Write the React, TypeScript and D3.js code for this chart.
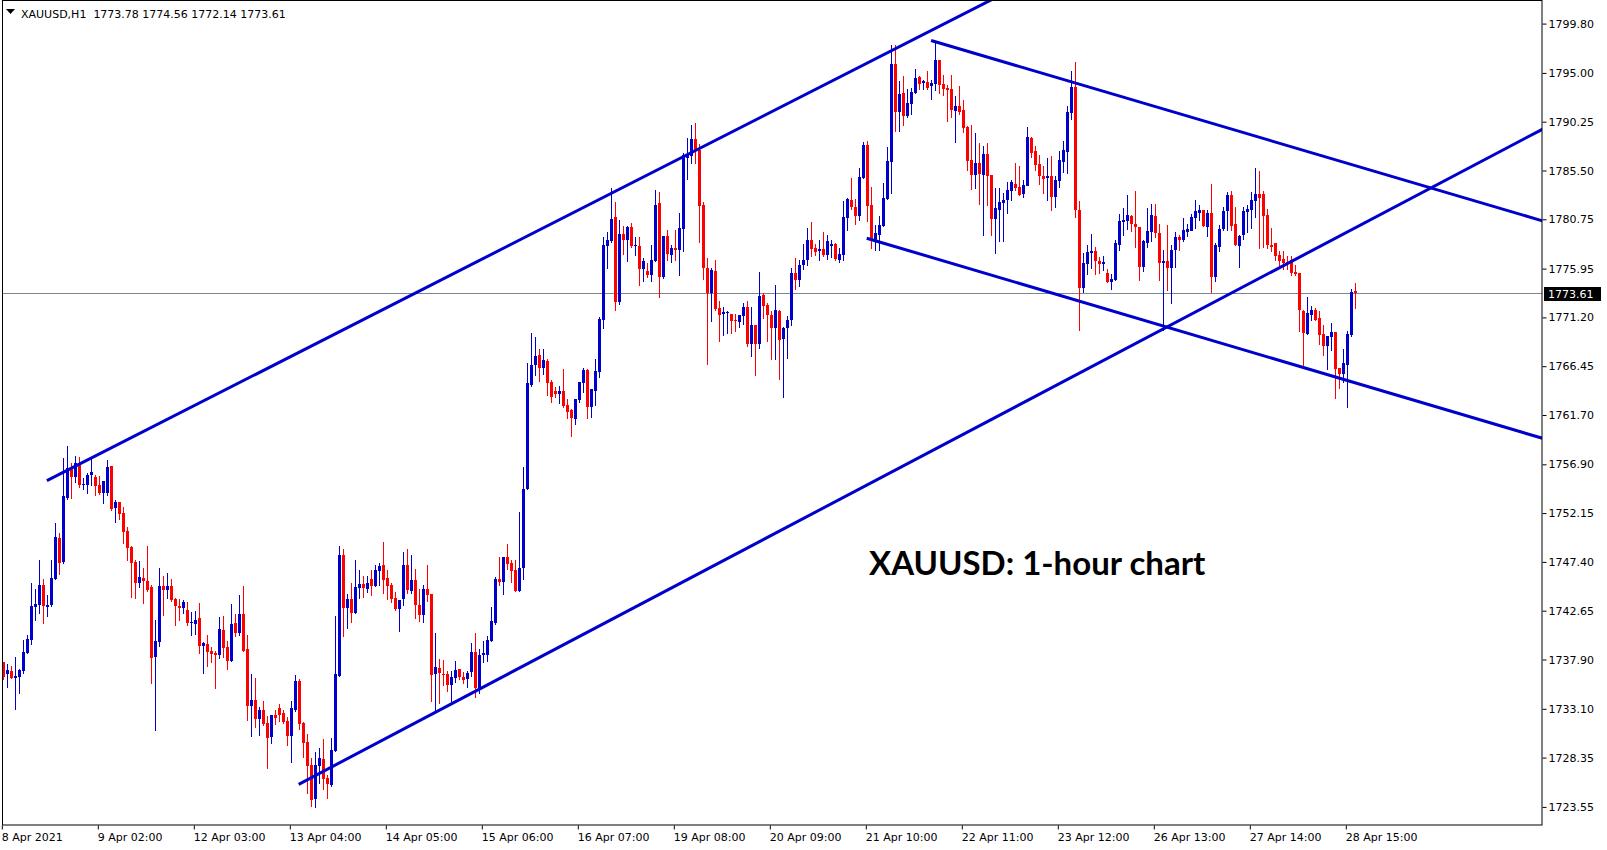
import * as d3 from 'd3';
import {useEffect, useRef} from "react";

// XAUUSD H1 bars, 8 Apr 2021 01:00 .. 28 Apr 2021 17:00
const opens = [
    1737.63, 1736.52, 1736.78, 1736.13, 1736.23, 1736.81, 1738.57, 1739.80, 1743.05, 1743.21,
    1745.16, 1743.05, 1743.24, 1745.77, 1749.77, 1747.40, 1753.60, 1756.58, 1755.61, 1757.00,
    1754.93, 1754.93, 1755.80, 1755.67, 1754.86, 1754.12, 1754.12, 1756.74, 1752.69, 1753.24,
    1752.17, 1750.41, 1748.86, 1747.43, 1745.39, 1745.84, 1745.55, 1744.97, 1738.15, 1739.64,
    1745.06, 1744.67, 1745.06, 1743.80, 1743.12, 1742.86, 1742.73, 1741.46, 1741.40, 1741.95,
    1739.25, 1739.41, 1738.74, 1738.57, 1738.35, 1740.78, 1739.12, 1737.76, 1741.46, 1740.52,
    1742.34, 1738.93, 1733.41, 1733.96, 1732.15, 1732.99, 1731.72, 1730.35, 1732.50, 1733.18,
    1732.69, 1731.91, 1730.48, 1732.98, 1735.81, 1731.72, 1729.87, 1727.66, 1724.35, 1727.56,
    1728.21, 1726.39, 1725.71, 1728.99, 1736.33, 1748.08, 1742.95, 1743.79, 1742.46, 1744.90,
    1745.25, 1744.80, 1745.74, 1745.09, 1746.55, 1747.10, 1745.84, 1745.16, 1743.89, 1742.85,
    1743.83, 1747.10, 1744.60, 1745.64, 1743.24, 1742.27, 1744.77, 1744.28, 1736.43, 1737.04,
    1736.52, 1736.52, 1735.45, 1736.13, 1736.94, 1736.23, 1736.04, 1736.62, 1738.60, 1735.06,
    1738.31, 1738.34, 1739.70, 1741.42, 1745.74, 1745.48, 1747.88, 1747.30, 1746.62, 1744.57,
    1746.75, 1754.47, 1764.67, 1766.58, 1767.55, 1766.29, 1766.97, 1764.92, 1764.05, 1763.79,
    1764.05, 1762.72, 1762.14, 1761.36, 1763.20, 1764.83, 1766.09, 1762.52, 1764.08, 1765.93,
    1771.00, 1778.17, 1778.65, 1780.99, 1772.71, 1779.34, 1778.75, 1780.02, 1778.10, 1778.17,
    1775.93, 1775.73, 1775.34, 1776.71, 1782.35, 1775.18, 1779.14, 1777.32, 1777.97, 1777.78,
    1779.82, 1786.77, 1786.93, 1788.59, 1787.52, 1782.16, 1776.03, 1773.59, 1775.73, 1772.13,
    1771.48, 1771.62, 1771.55, 1770.90, 1770.80, 1771.38, 1772.23, 1768.63, 1770.48, 1768.63,
    1773.40, 1772.42, 1771.48, 1770.18, 1771.84, 1769.05, 1770.12, 1770.90, 1775.50, 1774.80,
    1776.30, 1776.80, 1778.75, 1777.97, 1777.65, 1777.87, 1777.29, 1778.17, 1778.36, 1776.80,
    1777.29, 1780.92, 1782.64, 1781.96, 1781.09, 1784.79, 1788.00, 1782.15, 1778.65, 1779.24,
    1780.11, 1782.77, 1786.38, 1795.89, 1791.18, 1793.06, 1790.85, 1791.96, 1793.06, 1794.62,
    1794.00, 1794.13, 1793.74, 1793.94, 1796.28, 1793.94, 1793.55, 1793.45, 1791.31, 1791.80,
    1791.41, 1789.75, 1786.54, 1785.08, 1786.20, 1785.08, 1787.09, 1785.08, 1780.79, 1781.67,
    1782.38, 1782.64, 1783.52, 1784.23, 1783.91, 1783.23, 1784.04, 1788.68, 1787.35, 1786.18,
    1785.01, 1784.78, 1784.98, 1782.97, 1784.53, 1786.34, 1787.32, 1791.15, 1793.65, 1781.67,
    1774.08, 1776.41, 1777.48, 1777.68, 1776.70, 1776.41, 1775.54, 1774.66, 1774.85, 1778.26,
    1780.50, 1780.60, 1781.09, 1780.34, 1780.01, 1776.15, 1778.49, 1779.56, 1781.09, 1779.43,
    1776.51, 1776.70, 1776.02, 1777.68, 1778.98, 1778.69, 1779.56, 1779.66, 1780.83, 1781.31,
    1781.61, 1780.05, 1781.41, 1775.08, 1778.10, 1779.72, 1781.51, 1783.13, 1780.25, 1778.20,
    1779.17, 1781.41, 1781.61, 1782.49, 1783.17, 1783.17, 1781.12, 1778.20, 1778.40, 1777.23,
    1776.84, 1776.60, 1776.80, 1775.63, 1775.50, 1771.83, 1769.59, 1771.48, 1771.93, 1771.15,
    1769.59, 1768.46, 1769.30, 1769.79, 1766.28, 1765.70, 1766.61, 1769.53, 1773.78,
];
const highs = [
    1737.70, 1737.46, 1737.24, 1738.18, 1736.98, 1739.80, 1740.29, 1745.32, 1744.77, 1747.59,
    1745.74, 1744.18, 1747.59, 1751.19, 1750.19, 1757.52, 1758.69, 1757.07, 1757.72, 1757.65,
    1755.58, 1756.03, 1757.40, 1755.84, 1755.80, 1755.28, 1757.33, 1756.74, 1753.47, 1753.24,
    1752.75, 1750.84, 1748.95, 1747.59, 1747.50, 1746.82, 1748.96, 1745.13, 1741.75, 1746.82,
    1746.04, 1746.33, 1745.75, 1743.90, 1743.80, 1743.70, 1743.50, 1742.53, 1742.63, 1743.41,
    1739.64, 1740.29, 1739.16, 1738.77, 1742.05, 1742.14, 1739.74, 1743.31, 1742.34, 1744.19,
    1745.06, 1740.29, 1736.50, 1736.10, 1733.28, 1733.87, 1732.41, 1732.50, 1732.98, 1733.60,
    1732.98, 1732.30, 1733.86, 1736.39, 1736.00, 1731.80, 1730.65, 1728.31, 1728.89, 1729.28,
    1730.16, 1726.65, 1730.26, 1742.14, 1748.95, 1748.66, 1744.31, 1745.35, 1747.59, 1746.61,
    1746.03, 1746.03, 1746.61, 1747.10, 1747.30, 1749.34, 1746.61, 1745.32, 1744.47, 1743.70,
    1748.37, 1748.66, 1748.08, 1746.71, 1744.77, 1745.16, 1747.10, 1744.28, 1740.48, 1737.92,
    1737.82, 1736.82, 1736.82, 1737.79, 1736.94, 1736.72, 1736.82, 1739.51, 1740.48, 1738.92,
    1739.70, 1740.19, 1743.05, 1745.94, 1747.88, 1747.88, 1749.15, 1747.59, 1747.59, 1752.26,
    1756.65, 1766.77, 1769.73, 1769.31, 1768.14, 1768.14, 1767.17, 1765.12, 1764.44, 1764.53,
    1766.19, 1763.30, 1762.30, 1763.30, 1764.96, 1766.29, 1766.19, 1764.24, 1767.17, 1771.22,
    1778.98, 1779.53, 1783.81, 1782.45, 1780.70, 1780.12, 1780.12, 1780.41, 1779.04, 1779.04,
    1777.00, 1776.51, 1778.27, 1783.62, 1783.43, 1779.14, 1779.73, 1778.27, 1779.73, 1781.38,
    1787.22, 1788.68, 1789.95, 1790.14, 1788.10, 1782.45, 1777.00, 1776.03, 1776.80, 1772.81,
    1772.23, 1771.84, 1771.55, 1771.55, 1771.45, 1772.65, 1772.81, 1772.23, 1770.48, 1775.64,
    1773.59, 1772.62, 1771.87, 1774.37, 1771.94, 1770.22, 1771.29, 1776.00, 1777.00, 1776.80,
    1778.35, 1779.88, 1780.50, 1778.36, 1778.75, 1779.53, 1779.24, 1778.75, 1778.46, 1777.97,
    1782.55, 1782.84, 1784.79, 1782.74, 1785.76, 1788.29, 1788.39, 1783.91, 1780.21, 1781.09,
    1784.30, 1787.80, 1797.74, 1797.74, 1794.23, 1794.72, 1793.45, 1793.55, 1795.40, 1794.72,
    1794.33, 1795.20, 1794.33, 1797.96, 1796.28, 1794.81, 1793.84, 1794.81, 1792.77, 1793.74,
    1792.38, 1789.85, 1789.95, 1789.14, 1788.20, 1787.90, 1788.19, 1785.08, 1783.78, 1783.78,
    1783.30, 1784.40, 1784.56, 1786.21, 1785.89, 1784.59, 1789.75, 1788.78, 1787.84, 1787.02,
    1785.89, 1786.73, 1786.93, 1784.98, 1787.35, 1788.42, 1791.80, 1795.20, 1796.08, 1782.55,
    1777.48, 1778.26, 1779.33, 1778.07, 1777.09, 1777.19, 1775.93, 1775.44, 1778.75, 1781.28,
    1781.87, 1783.07, 1781.18, 1783.52, 1780.01, 1778.75, 1781.87, 1782.26, 1782.26, 1780.31,
    1777.78, 1780.21, 1778.26, 1779.56, 1779.24, 1780.90, 1780.31, 1781.28, 1782.58, 1782.19,
    1781.61, 1781.61, 1784.14, 1778.40, 1780.21, 1781.99, 1783.40, 1783.46, 1781.99, 1779.27,
    1781.99, 1782.19, 1783.36, 1785.70, 1785.41, 1783.46, 1781.71, 1779.95, 1778.40, 1777.71,
    1777.71, 1777.20, 1777.19, 1776.31, 1775.50, 1771.93, 1773.23, 1772.32, 1772.13, 1771.83,
    1770.47, 1769.40, 1770.66, 1769.79, 1766.28, 1768.13, 1769.89, 1773.98, 1774.56,
];
const lows = [
    1736.00, 1735.26, 1736.10, 1733.05, 1734.67, 1736.62, 1738.50, 1739.44, 1741.75, 1742.40,
    1741.49, 1742.17, 1743.14, 1745.77, 1746.26, 1747.33, 1753.53, 1753.66, 1755.22, 1754.73,
    1754.50, 1754.10, 1754.90, 1753.90, 1754.05, 1753.17, 1753.92, 1752.46, 1751.32, 1751.58,
    1749.28, 1747.59, 1744.02, 1743.92, 1745.00, 1743.44, 1744.58, 1735.65, 1731.04, 1739.25,
    1742.24, 1743.90, 1743.64, 1741.27, 1741.75, 1742.47, 1741.27, 1740.29, 1740.39, 1738.57,
    1736.62, 1737.30, 1737.70, 1735.16, 1738.09, 1738.18, 1736.98, 1737.76, 1740.23, 1740.29,
    1738.77, 1732.02, 1730.49, 1731.37, 1730.59, 1731.53, 1727.31, 1729.80, 1731.65, 1731.94,
    1731.75, 1729.61, 1727.95, 1732.89, 1731.13, 1728.44, 1724.93, 1723.67, 1723.57, 1725.91,
    1725.32, 1724.45, 1725.62, 1728.99, 1736.33, 1740.22, 1741.00, 1741.58, 1742.46, 1743.92,
    1744.02, 1744.51, 1744.18, 1745.09, 1745.16, 1744.41, 1743.82, 1743.53, 1742.72, 1740.71,
    1743.18, 1744.41, 1744.41, 1741.98, 1741.68, 1741.59, 1743.60, 1733.89, 1732.99, 1733.70,
    1735.45, 1734.87, 1733.89, 1735.74, 1736.04, 1735.65, 1735.26, 1736.33, 1734.29, 1734.67,
    1737.69, 1737.79, 1739.70, 1741.36, 1745.16, 1744.28, 1746.75, 1745.45, 1744.57, 1744.57,
    1745.77, 1754.47, 1764.57, 1765.61, 1765.05, 1765.71, 1763.69, 1763.01, 1763.50, 1762.91,
    1762.43, 1761.45, 1759.70, 1760.87, 1763.00, 1763.98, 1761.45, 1761.55, 1762.72, 1765.44,
    1770.18, 1776.03, 1778.56, 1771.94, 1772.52, 1777.39, 1776.71, 1778.07, 1777.29, 1774.37,
    1774.76, 1775.15, 1774.76, 1776.71, 1773.14, 1775.08, 1776.80, 1776.55, 1776.74, 1775.28,
    1777.68, 1784.69, 1786.25, 1786.25, 1778.56, 1774.89, 1766.68, 1770.87, 1771.94, 1768.92,
    1769.53, 1769.73, 1769.73, 1769.89, 1770.22, 1770.51, 1768.43, 1767.46, 1765.61, 1768.24,
    1771.16, 1768.92, 1767.17, 1767.17, 1765.25, 1763.50, 1767.29, 1770.50, 1774.00, 1774.30,
    1775.90, 1776.30, 1777.13, 1777.29, 1776.80, 1777.19, 1776.90, 1777.09, 1776.80, 1776.60,
    1776.80, 1779.72, 1781.77, 1780.31, 1780.70, 1784.79, 1780.60, 1777.97, 1777.77, 1777.77,
    1780.11, 1782.70, 1783.33, 1789.30, 1789.30, 1789.95, 1790.72, 1791.02, 1793.06, 1793.45,
    1793.45, 1793.45, 1792.48, 1793.35, 1793.06, 1792.87, 1790.34, 1790.72, 1788.23, 1791.02,
    1789.26, 1785.56, 1783.71, 1783.78, 1782.20, 1779.24, 1782.16, 1779.24, 1777.45, 1778.65,
    1778.65, 1781.41, 1782.64, 1783.62, 1783.13, 1782.90, 1784.04, 1786.86, 1785.56, 1784.20,
    1783.29, 1782.64, 1781.67, 1781.96, 1783.94, 1785.40, 1785.27, 1790.56, 1781.02, 1770.00,
    1773.69, 1775.44, 1776.02, 1775.44, 1775.54, 1775.83, 1774.66, 1773.98, 1774.85, 1777.78,
    1779.24, 1779.82, 1779.63, 1778.10, 1774.85, 1775.73, 1778.10, 1778.65, 1779.04, 1774.85,
    1770.00, 1773.88, 1772.62, 1776.15, 1777.78, 1778.59, 1779.17, 1779.66, 1779.92, 1780.64,
    1780.05, 1779.08, 1773.72, 1774.70, 1777.71, 1779.66, 1779.66, 1779.66, 1778.20, 1776.06,
    1778.79, 1779.56, 1779.95, 1781.02, 1777.91, 1778.10, 1778.00, 1777.71, 1776.74, 1776.32,
    1775.96, 1775.90, 1775.34, 1775.34, 1769.89, 1766.48, 1769.59, 1770.96, 1770.96, 1768.62,
    1767.55, 1766.19, 1768.04, 1763.36, 1764.33, 1764.92, 1762.52, 1769.43, 1772.14,
];
const closes = [
    1736.17, 1736.88, 1736.13, 1736.33, 1736.91, 1738.66, 1739.90, 1743.11, 1743.31, 1745.16,
    1743.14, 1743.24, 1745.84, 1749.86, 1747.33, 1753.82, 1756.52, 1755.71, 1757.00, 1754.83,
    1755.02, 1755.90, 1756.13, 1754.83, 1754.12, 1755.28, 1756.65, 1752.52, 1753.24, 1752.10,
    1750.35, 1748.79, 1747.33, 1745.35, 1745.97, 1745.55, 1744.67, 1738.09, 1739.71, 1745.06,
    1744.67, 1745.06, 1743.73, 1743.15, 1742.92, 1743.47, 1741.43, 1741.59, 1741.75, 1739.25,
    1739.51, 1738.67, 1738.48, 1738.38, 1740.88, 1739.06, 1737.76, 1741.36, 1740.52, 1742.34,
    1738.77, 1733.41, 1733.96, 1732.15, 1733.02, 1731.63, 1730.30, 1732.50, 1732.24, 1732.50,
    1731.82, 1730.48, 1733.18, 1735.81, 1731.65, 1729.80, 1727.56, 1724.25, 1727.63, 1728.31,
    1726.30, 1725.81, 1729.09, 1736.49, 1748.08, 1742.95, 1743.79, 1742.46, 1744.96, 1745.25,
    1744.90, 1745.35, 1745.09, 1746.61, 1747.00, 1745.67, 1745.09, 1743.79, 1742.82, 1743.70,
    1747.10, 1744.70, 1745.64, 1743.24, 1742.27, 1744.77, 1744.22, 1736.43, 1737.14, 1736.52,
    1736.43, 1735.45, 1736.23, 1736.91, 1736.13, 1735.94, 1736.62, 1738.60, 1735.06, 1738.34,
    1738.50, 1739.80, 1741.65, 1745.74, 1745.48, 1747.88, 1747.23, 1746.52, 1744.57, 1746.81,
    1754.47, 1764.83, 1766.58, 1767.46, 1766.29, 1767.07, 1764.86, 1763.50, 1763.79, 1764.05,
    1762.62, 1762.04, 1761.36, 1763.30, 1764.96, 1766.09, 1762.52, 1764.24, 1765.99, 1771.09,
    1778.27, 1778.75, 1780.80, 1772.71, 1779.34, 1778.75, 1780.02, 1778.17, 1778.20, 1775.93,
    1776.71, 1775.34, 1776.80, 1782.16, 1775.18, 1779.14, 1777.39, 1777.97, 1777.78, 1779.92,
    1787.03, 1787.03, 1788.59, 1787.42, 1782.06, 1776.06, 1773.59, 1775.83, 1772.03, 1771.45,
    1771.68, 1771.68, 1770.90, 1770.80, 1771.45, 1772.23, 1768.63, 1770.48, 1768.63, 1773.30,
    1772.33, 1771.48, 1770.18, 1771.94, 1769.05, 1770.12, 1770.90, 1775.50, 1774.80, 1776.30,
    1776.80, 1778.75, 1777.90, 1777.61, 1777.87, 1777.29, 1778.65, 1778.36, 1776.90, 1777.39,
    1780.99, 1782.74, 1781.96, 1781.09, 1784.88, 1788.00, 1782.09, 1778.65, 1779.37, 1780.21,
    1782.84, 1786.44, 1795.89, 1791.18, 1792.97, 1790.85, 1792.09, 1793.16, 1794.52, 1793.94,
    1794.17, 1793.55, 1794.04, 1796.28, 1793.84, 1793.45, 1793.39, 1791.41, 1791.80, 1791.21,
    1789.65, 1786.47, 1785.08, 1786.21, 1785.10, 1787.09, 1784.92, 1780.79, 1781.83, 1782.45,
    1782.64, 1783.62, 1784.40, 1783.84, 1783.13, 1784.10, 1788.78, 1787.25, 1785.99, 1785.01,
    1784.72, 1784.98, 1782.97, 1784.60, 1786.54, 1787.51, 1791.21, 1793.65, 1781.67, 1774.08,
    1776.51, 1777.58, 1777.68, 1776.70, 1776.41, 1776.61, 1774.66, 1774.95, 1778.46, 1780.60,
    1780.70, 1781.18, 1780.31, 1780.01, 1776.15, 1778.65, 1779.63, 1781.18, 1779.43, 1776.51,
    1776.70, 1776.02, 1777.78, 1778.98, 1778.69, 1779.66, 1779.82, 1781.02, 1781.51, 1781.61,
    1780.05, 1781.41, 1775.18, 1778.20, 1779.82, 1781.51, 1783.07, 1780.15, 1778.20, 1779.17,
    1781.51, 1781.71, 1782.58, 1783.17, 1782.78, 1781.02, 1778.20, 1778.00, 1777.13, 1776.64,
    1776.45, 1776.50, 1775.50, 1775.44, 1771.87, 1769.72, 1771.64, 1771.93, 1770.96, 1769.50,
    1768.46, 1769.40, 1769.79, 1766.22, 1765.70, 1766.80, 1769.59, 1773.68, 1773.61,
];

const priceTicks = [1799.80, 1795.00, 1790.25, 1785.50, 1780.75, 1775.95, 1771.20, 1766.45,
    1761.70, 1756.90, 1752.15, 1747.40, 1742.65, 1737.90, 1733.10, 1728.35, 1723.55];
const dateTickBars = [0, 24, 48, 72, 96, 120, 144, 168, 192, 216, 240, 264, 288, 312, 336];
const dateLabels = ["8 Apr 2021", "9 Apr 02:00", "12 Apr 03:00", "13 Apr 04:00", "14 Apr 05:00",
    "15 Apr 06:00", "16 Apr 07:00", "19 Apr 08:00", "20 Apr 09:00", "21 Apr 10:00", "22 Apr 11:00",
    "23 Apr 12:00", "26 Apr 13:00", "27 Apr 14:00", "28 Apr 15:00"];

// trend lines: [start bar, start price, end bar, end price] (rays run past the right edge)
const trendLines = [
    [10.9, 1755.31, 400, 1832.44],
    [73.85, 1725.75, 400, 1792.64],
    [231.95, 1798.16, 400, 1778.85],
    [215.85, 1778.91, 400, 1757.68],
];
const lastPrice = 1773.61;
const header = "XAUUSD,H1  1773.78 1774.56 1772.14 1773.61";
const caption = "XAUUSD: 1-hour chart";

export default function App() {
    const svgRef = useRef<SVGSVGElement | null>(null);

    useEffect(() => {
        const W = 1607, H = 850;
        const plotRight = 1542, plotBottom = 825;
        const bull = "#0000cd", bear = "#ff0000";

        const svg = d3.select(svgRef.current)
            .attr("width", W)
            .attr("height", H)
            .html("");

        const x = d3.scaleLinear().domain([0, closes.length - 1]).range([3.3, 3.3 + 4 * (closes.length - 1)]);
        const y = d3.scaleLinear().domain([1723.55, 1799.80]).range([806.9, 23.6]);
        const px = (i: number) => Math.round(x(i)) + 0.5;

        svg.append("defs").append("clipPath").attr("id", "plot")
            .append("rect").attr("x", 2).attr("y", 0).attr("width", plotRight - 2).attr("height", plotBottom);

        const plot = svg.append("g").attr("clip-path", "url(#plot)");

        // current price line
        plot.append("line")
            .attr("x1", 2).attr("x2", plotRight)
            .attr("y1", Math.round(y(lastPrice)) + 0.5).attr("y2", Math.round(y(lastPrice)) + 0.5)
            .attr("stroke", "#7a8690").attr("stroke-width", 1);

        const idx = d3.range(closes.length);
        const candles = plot.append("g").attr("shape-rendering", "crispEdges");
        candles.selectAll(".wick")
            .data(idx)
            .enter()
            .append("line")
            .attr("x1", d => px(d)).attr("x2", d => px(d))
            .attr("y1", d => Math.round(y(highs[d])))
            .attr("y2", d => Math.round(y(lows[d])) + 1)
            .attr("stroke", d => closes[d] >= opens[d] ? bull : bear)
            .attr("stroke-width", 1);
        candles.selectAll(".body")
            .data(idx)
            .enter()
            .append("rect")
            .attr("x", d => px(d) - 1.5)
            .attr("y", d => Math.round(y(Math.max(opens[d], closes[d]))))
            .attr("width", 3)
            .attr("height", d => Math.max(1, Math.round(Math.abs(y(opens[d]) - y(closes[d])))))
            .attr("fill", d => closes[d] >= opens[d] ? bull : bear);

        // trend lines
        plot.selectAll(".trend")
            .data(trendLines)
            .enter()
            .append("line")
            .attr("x1", d => x(d[0])).attr("y1", d => y(d[1]))
            .attr("x2", d => x(d[2])).attr("y2", d => y(d[3]))
            .attr("stroke", bull)
            .attr("stroke-width", 3);

        // frame
        svg.append("rect")
            .attr("x", 2.5).attr("y", 0.5)
            .attr("width", plotRight - 2.5).attr("height", plotBottom - 0.5)
            .attr("fill", "none").attr("stroke", "#000").attr("stroke-width", 1);

        // price axis
        const yAxis = svg.append("g")
            .attr("transform", `translate(${plotRight + 0.5},0)`)
            .call(d3.axisRight(y).tickValues(priceTicks).tickSize(4).tickSizeOuter(0).tickFormat(d3.format(".2f")));
        yAxis.select(".domain").remove();
        yAxis.selectAll("text").attr("font-family", "DejaVu Sans").attr("font-size", 11).attr("fill", "#000").attr("x", 6);

        // time axis
        const xAxis = svg.append("g")
            .attr("transform", `translate(0,${plotBottom + 0.5})`)
            .call(d3.axisBottom(x).tickValues(dateTickBars).tickSize(4).tickSizeOuter(0)
                .tickFormat((_, i) => dateLabels[i]));
        xAxis.select(".domain").remove();
        xAxis.selectAll(".tick line").attr("transform", "translate(-1.5,0)");
        xAxis.selectAll("text")
            .attr("font-family", "DejaVu Sans").attr("font-size", 11).attr("fill", "#000")
            .attr("text-anchor", "start").attr("x", -2).attr("y", 8);

        // last price tag
        svg.append("rect")
            .attr("x", plotRight + 2).attr("y", Math.round(y(lastPrice)) - 6)
            .attr("width", 57).attr("height", 14).attr("fill", "#000");
        svg.append("text")
            .attr("x", plotRight + 6).attr("y", Math.round(y(lastPrice)) + 5)
            .attr("font-family", "DejaVu Sans").attr("font-size", 11).attr("fill", "#fff")
            .text(lastPrice.toFixed(2));

        // header
        svg.append("path").attr("d", "M6,9L15,9L10.5,14Z").attr("fill", "#000");
        svg.append("text")
            .attr("x", 21).attr("y", 18)
            .attr("font-family", "DejaVu Sans").attr("font-size", 11).attr("fill", "#000")
            .attr("xml:space", "preserve").style("white-space", "pre")
            .text(header);

        svg.append("text")
            .attr("x", 869).attr("y", 575)
            .attr("font-family", "Lato").attr("font-weight", "bold").attr("font-size", 33).attr("fill", "#000")
            .text(caption);
    }, []);

    return <svg ref={svgRef} style={{position: "absolute", left: 0, top: 0, background: "#fff"}}></svg>;
}
